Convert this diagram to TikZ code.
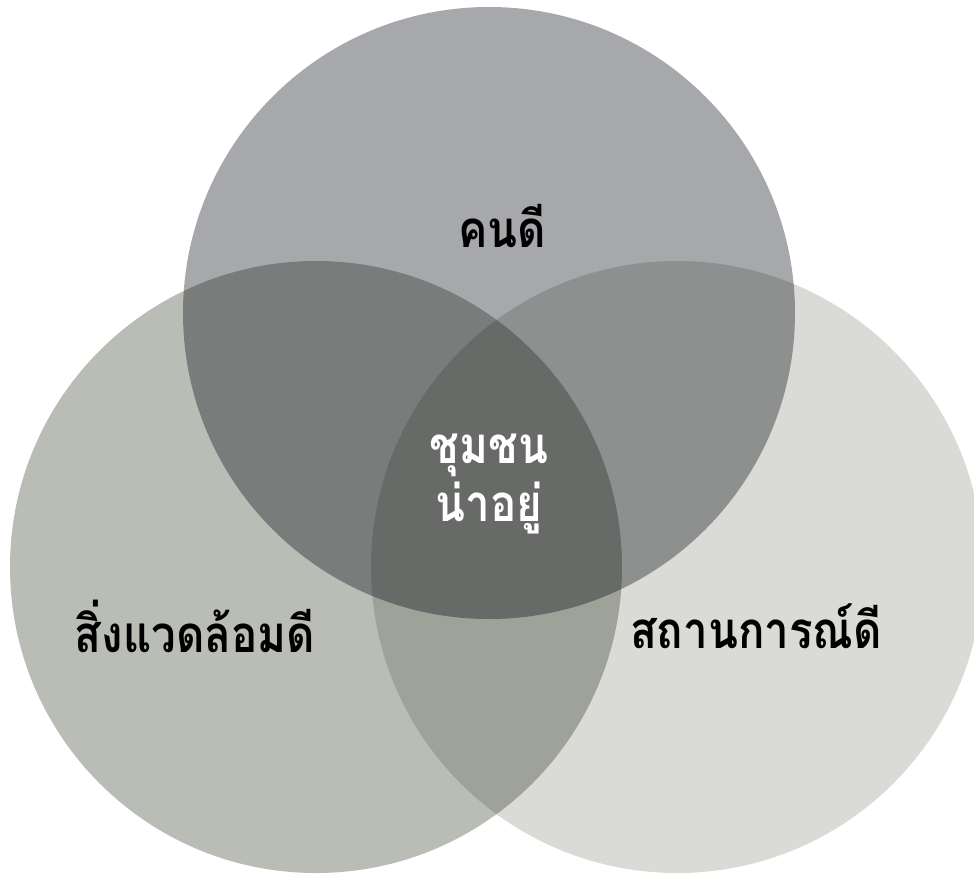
\documentclass[tikz,border=0pt]{standalone}
\usepackage{fontspec}
\newfontfamily\thaifont[Script=Thai,FakeStretch=0.86]{Loma}
\usepackage{tikz}
\usetikzlibrary{positioning}
\definecolor{peoplegray}{HTML}{A7A8AB}
\definecolor{envgray}{HTML}{B9BDB6}
\definecolor{situationgray}{HTML}{DADBD6}

\begin{document}
\begin{tikzpicture}[
    x=1pt,
    y=-1pt,
    venncircle/.style={circle, minimum size=612pt, inner sep=0pt, blend mode=multiply},
    vennlabel/.style={font=\thaifont\bfseries\fontsize{51}{58}\selectfont, align=center, inner sep=0pt}
  ]
  \useasboundingbox (0,0) rectangle (974,873);
  \clip (0,0) rectangle (974,873);

  % Three sets; multiplying the fills darkens every overlap.
  \node[venncircle, fill=peoplegray]    (people)      at (489,313) {};
  \node[venncircle, fill=envgray]       (environment) at (316,567) {};
  \node[venncircle, fill=situationgray] (situation)   at (677,567) {};

  % Set names, and the shared middle.
  \node[vennlabel] (peoplelabel)      at (502,226) {คนดี};
  \node[vennlabel] (environmentlabel) at (195,626) {สิ่งแวดล้อมดี};
  \node[vennlabel] (situationlabel)   at (756,626) {สถานการณ์ดี};
  \node[vennlabel, text=white] (centrelabel) at (489,484) {ชุมชน\\น่าอยู่};
\end{tikzpicture}
\end{document}
